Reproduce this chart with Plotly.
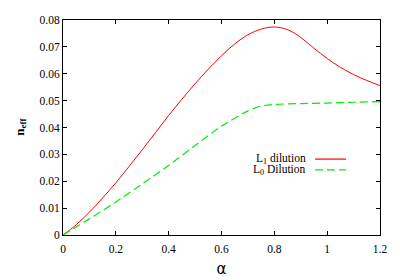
import plotly.graph_objects as go

alpha_l1 = [0.0, 0.05, 0.1, 0.15, 0.2, 0.25, 0.3, 0.35, 0.4, 0.45, 0.5, 0.55, 0.6, 0.65, 0.7, 0.75, 0.8, 0.85, 0.9, 0.95, 1.0, 1.05, 1.1, 1.15, 1.2]
neff_l1 = [0.0, 0.0038, 0.0085, 0.0138, 0.0194, 0.0255, 0.0317, 0.0381, 0.0445, 0.0505, 0.0563, 0.0617, 0.0667, 0.0711, 0.0745, 0.0766, 0.0774, 0.0764, 0.0735, 0.0695, 0.0657, 0.0624, 0.0597, 0.0575, 0.0556]

alpha_l0 = [0.0, 0.1, 0.2, 0.3, 0.4, 0.5, 0.6, 0.7, 0.75, 0.8, 0.9, 1.0, 1.1, 1.2]
neff_l0 = [0.0, 0.006, 0.0123, 0.019, 0.0259, 0.0333, 0.0405, 0.0462, 0.0480, 0.0486, 0.0489, 0.0491, 0.0494, 0.0496]

x_ticks = [0, 0.2, 0.4, 0.6, 0.8, 1.0, 1.2]
x_tick_labels = ["0", "0.2", "0.4", "0.6", "0.8", "1", "1.2"]
y_ticks = [0, 0.01, 0.02, 0.03, 0.04, 0.05, 0.06, 0.07, 0.08]
y_tick_labels = ["0", "0.01", "0.02", "0.03", "0.04", "0.05", "0.06", "0.07", "0.08"]

legend_names = ["L<sub>1</sub> dilution", "L<sub>0</sub> Dilution"]

serif = "Liberation Serif, Times New Roman, serif"

fig = go.Figure()
fig.add_trace(go.Scatter(x=alpha_l1, y=neff_l1, mode="lines", line=dict(color="#ff0000", width=1, shape="spline", smoothing=1), name=legend_names[0], showlegend=False))
fig.add_trace(go.Scatter(x=alpha_l0, y=neff_l0, mode="lines", line=dict(color="#00ee00", width=1.2, dash="8px,4px", shape="spline", smoothing=0.6), name=legend_names[1], showlegend=False))

axis_common = dict(showgrid=False, zeroline=False, showline=True, linecolor="#000000", linewidth=1,
                   mirror="allticks", ticks="inside", ticklen=4, tickcolor="#000000",
                   tickfont=dict(family=serif, size=11.5, color="#000000"))

# page body has an 8px margin, so the figure is shrunk by 8px to fit the 400x280 window
fig.update_layout(
    width=392, height=272,
    margin=dict(l=55, r=20, t=6, b=45),
    paper_bgcolor="white", plot_bgcolor="white",
    xaxis=dict(range=[0, 1.2], tickvals=x_ticks, ticktext=x_tick_labels, ticklabelstandoff=3,
               title=dict(text="α", font=dict(family="DejaVu Sans", size=15, color="#000000"), standoff=9),
               **axis_common),
    yaxis=dict(range=[0, 0.08], tickvals=y_ticks, ticktext=y_tick_labels, **axis_common),
)

fig.add_annotation(xref="paper", yref="paper", x=-0.17, y=0.502, text="<b>n<sub>eff</sub></b>",
                   textangle=-90, showarrow=False, font=dict(family=serif, size=13, color="#000000"))

legend_y = [0.353, 0.303]
legend_colors = ["#ff0000", "#00ee00"]
legend_dash = ["solid", "8px,4px"]
for i in range(2):
    fig.add_annotation(xref="paper", yref="paper", x=0.773, y=legend_y[i], xanchor="right", yanchor="middle",
                       text=legend_names[i], showarrow=False, font=dict(family=serif, size=11.5, color="#000000"))
    fig.add_shape(type="line", xref="paper", yref="paper", x0=0.795, x1=0.893, y0=legend_y[i], y1=legend_y[i],
                  line=dict(color=legend_colors[i], width=1.2, dash=legend_dash[i]))

fig.write_html("out.html")
